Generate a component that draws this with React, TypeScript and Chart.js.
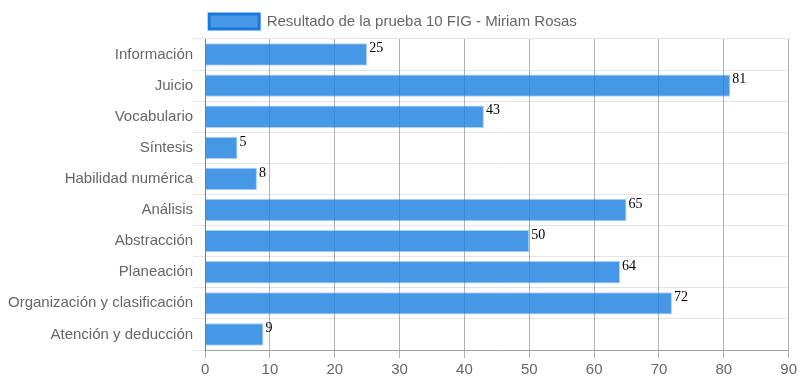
import React, { useEffect, useRef } from "react";
import { Chart, registerables } from "chart.js";

Chart.register(...registerables);

const categories = [
  "Información",
  "Juicio",
  "Vocabulario",
  "Síntesis",
  "Habilidad numérica",
  "Análisis",
  "Abstracción",
  "Planeación",
  "Organización y clasificación",
  "Atención y deducción",
];
const values = [25, 81, 43, 5, 8, 65, 50, 64, 72, 9];
const seriesLabel = "Resultado de la prueba 10 FIG - Miriam Rosas";
const xMin = 0;
const xMax = 90;
const xStep = 10;

const FONT = "'Liberation Sans', Arial, sans-serif";

const valueLabels = {
  id: "valueLabels",
  afterDatasetsDraw(chart: any) {
    const ctx = chart.ctx;
    const meta = chart.getDatasetMeta(0);
    ctx.save();
    ctx.font = "14px 'Liberation Serif', serif";
    ctx.fillStyle = "#000";
    ctx.textAlign = "left";
    ctx.textBaseline = "middle";
    meta.data.forEach((bar: any, i: number) => {
      ctx.fillText(String(values[i]), bar.x + 2, bar.y - 6);
    });
    ctx.restore();
  },
};

const legendShift = {
  id: "legendShift",
  afterLayout(chart: any) {
    if (chart.legend) {
      chart.legend.left -= 6;
      chart.legend.right -= 6;
    }
  },
};

export default function App() {
  const ref = useRef<HTMLCanvasElement>(null);
  useEffect(() => {
    document.body.style.margin = "0";
    const chart = new Chart(ref.current!, {
      type: "bar",
      data: {
        labels: categories,
        datasets: [
          {
            label: seriesLabel,
            data: values,
            backgroundColor: "rgba(25,125,225,0.8)",
            borderColor: "rgba(25,125,225,0.35)",
            borderWidth: 1,
          },
        ],
      },
      options: {
        indexAxis: "y",
        animation: false,
        responsive: false,
        maintainAspectRatio: false,
        layout: { padding: { left: 8, right: 10, top: 4, bottom: 4 } },
        plugins: {
          legend: {
            labels: {
              font: { size: 15, family: FONT },
              color: "#666",
              boxWidth: 50,
              boxHeight: 15,
              padding: 10,
              generateLabels(chart: any) {
                const items = Chart.defaults.plugins.legend.labels.generateLabels(chart);
                return items.map((it: any) => ({ ...it, strokeStyle: "#1a78e0", lineWidth: 3 }));
              },
            },
          },
          tooltip: { enabled: false },
        },
        scales: {
          x: {
            min: xMin,
            max: xMax,
            ticks: {
              stepSize: xStep,
              font: { size: 15, family: FONT },
              color: "#666",
            },
            grid: { color: "rgba(0,0,0,0.3)", tickLength: 8 },
            border: { color: "rgba(0,0,0,0.3)" },
          },
          y: {
            ticks: {
              font: { size: 15, family: FONT },
              color: "#666",
              padding: 0,
            },
            grid: { color: "rgba(0,0,0,0.1)", tickLength: 12 },
            border: { color: "rgba(0,0,0,0.3)" },
          },
        },
      },
      plugins: [valueLabels, legendShift],
    });
    return () => chart.destroy();
  }, []);
  return <canvas ref={ref} width={800} height={386} style={{ display: "block" }} />;
}
